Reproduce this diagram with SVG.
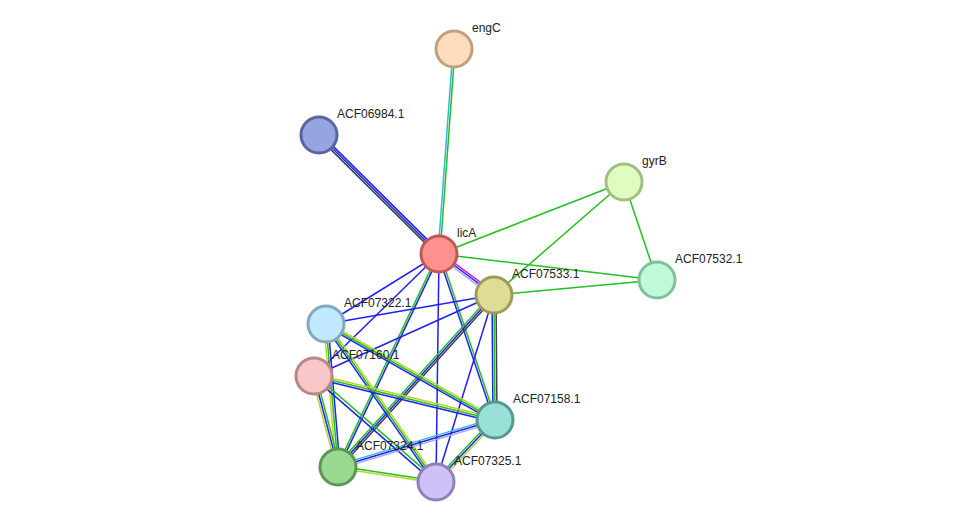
<svg xmlns="http://www.w3.org/2000/svg" width="975" height="528" viewBox="0 0 975 528">
<style>
line{stroke-width:1.5;fill:none}
.g{stroke:#22c022}.b{stroke:#2020f0}.k{stroke:#404040}.c{stroke:#30b8d8}.y{stroke:#c0d030}.m{stroke:#d020d0}.l{stroke:#a0a8f0}
circle{stroke-width:3}
text{font-family:"Liberation Sans",Arial,sans-serif;font-size:12px;fill:#222}
</style>
<rect width="975" height="528" fill="#fff"/>
<g id="connectors">
<line class="c" x1="438" y1="254" x2="453" y2="49"/><line class="g" x1="440" y1="254" x2="455" y2="49"/>
<line class="k" x1="437.6" y1="255.4" x2="317.6" y2="136.4"/><line class="b" x1="439" y1="254" x2="319" y2="135"/><line class="b" x1="440.4" y1="252.6" x2="320.4" y2="133.6"/>
<line class="g" x1="439" y1="254" x2="624" y2="182"/>
<line class="g" x1="439" y1="254" x2="657" y2="280"/>
<line class="m" x1="440.2" y1="252.4" x2="495.2" y2="293.4"/><line class="b" x1="439" y1="254" x2="494" y2="295"/><line class="l" x1="437.8" y1="255.6" x2="492.8" y2="296.6"/>
<line class="b" x1="439" y1="254" x2="326" y2="324"/>
<line class="b" x1="439" y1="254" x2="314" y2="376"/>
<line class="b" x1="439.9" y1="254.4" x2="338.9" y2="467.4"/><line class="g" x1="438.1" y1="253.6" x2="337.1" y2="466.6"/>
<line class="b" x1="438" y1="254.3" x2="494" y2="420.3"/><line class="g" x1="440" y1="253.7" x2="496" y2="419.7"/>
<line class="b" x1="439" y1="254" x2="436" y2="482"/>
<line class="g" x1="624" y1="182" x2="494" y2="295"/>
<line class="g" x1="624" y1="182" x2="657" y2="280"/>
<line class="g" x1="494" y1="295" x2="657" y2="280"/>
<line class="b" x1="494" y1="295" x2="326" y2="324"/>
<line class="b" x1="494" y1="295" x2="314" y2="376"/>
<line class="g" x1="492.5" y1="293.7" x2="336.5" y2="465.7"/><line class="b" x1="494" y1="295" x2="338" y2="467"/><line class="k" x1="495.5" y1="296.3" x2="339.5" y2="468.3"/>
<line class="k" x1="496" y1="295" x2="497" y2="420"/><line class="g" x1="494" y1="295" x2="495" y2="420"/><line class="b" x1="492" y1="295" x2="493" y2="420"/>
<line class="b" x1="494" y1="295" x2="436" y2="482"/>
<line class="y" x1="324" y1="324" x2="336" y2="467"/><line class="g" x1="326" y1="324" x2="338" y2="467"/><line class="b" x1="328" y1="324" x2="340" y2="467"/>
<line class="y" x1="327" y1="322.3" x2="496" y2="418.3"/><line class="g" x1="326" y1="324" x2="495" y2="420"/><line class="b" x1="325" y1="325.7" x2="494" y2="421.7"/>
<line class="y" x1="327.6" y1="322.9" x2="437.6" y2="480.9"/><line class="g" x1="326" y1="324" x2="436" y2="482"/><line class="b" x1="324.4" y1="325.1" x2="434.4" y2="483.1"/>
<line class="y" x1="312" y1="376.5" x2="336" y2="467.5"/><line class="b" x1="314" y1="376" x2="338" y2="467"/><line class="g" x1="316" y1="375.5" x2="340" y2="466.5"/>
<line class="y" x1="314.5" y1="374" x2="495.5" y2="418"/><line class="g" x1="314" y1="376" x2="495" y2="420"/><line class="b" x1="313.5" y1="378" x2="494.5" y2="422"/>
<line class="g" x1="315" y1="374.9" x2="437" y2="480.9"/><line class="b" x1="313" y1="377.1" x2="435" y2="483.1"/>
<line class="c" x1="337.4" y1="465.1" x2="494.4" y2="418.1"/><line class="b" x1="338" y1="467" x2="495" y2="420"/><line class="l" x1="338.6" y1="468.9" x2="495.6" y2="421.9"/>
<line class="g" x1="338.2" y1="466" x2="436.2" y2="481"/><line class="y" x1="337.8" y1="468" x2="435.8" y2="483"/>
<line class="y" x1="496.4" y1="421.4" x2="437.4" y2="483.4"/><line class="b" x1="495" y1="420" x2="436" y2="482"/><line class="g" x1="493.6" y1="418.6" x2="434.6" y2="480.6"/>
</g>
<g id="engC"><circle cx="454" cy="49" r="18" fill="#ffdcbc" stroke="#c0a080"/><text x="472" y="32">engC</text></g>
<g id="ACF06984.1"><circle cx="319" cy="135" r="18" fill="#98a4e0" stroke="#5a64a0"/><text x="337" y="118">ACF06984.1</text></g>
<g id="gyrB"><circle cx="624" cy="182" r="18" fill="#e0fcc0" stroke="#a0c080"/><text x="642" y="165">gyrB</text></g>
<g id="licA"><circle cx="439" cy="254" r="18" fill="#ff9090" stroke="#c05858"/><text x="457" y="237">licA</text></g>
<g id="ACF07532.1"><circle cx="657" cy="280" r="18" fill="#c0f8d8" stroke="#80c0a0"/><text x="675" y="263">ACF07532.1</text></g>
<g id="ACF07533.1"><circle cx="494" cy="295" r="18" fill="#e0dc98" stroke="#a09c58"/><text x="512" y="278">ACF07533.1</text></g>
<g id="ACF07322.1"><circle cx="326" cy="324" r="18" fill="#c0e8ff" stroke="#80a8c0"/><text x="344" y="307">ACF07322.1</text></g>
<g id="ACF07160.1"><circle cx="314" cy="376" r="18" fill="#f8c8c8" stroke="#b88888"/><text x="332" y="359">ACF07160.1</text></g>
<g id="ACF07158.1"><circle cx="495" cy="420" r="18" fill="#98e0d8" stroke="#589890"/><text x="513" y="403">ACF07158.1</text></g>
<g id="ACF07324.1"><circle cx="338" cy="467" r="18" fill="#98d890" stroke="#589850"/><text x="356" y="450">ACF07324.1</text></g>
<g id="ACF07325.1"><circle cx="436" cy="482" r="18" fill="#d0c0f8" stroke="#9080b8"/><text x="454" y="465">ACF07325.1</text></g>
</svg>
